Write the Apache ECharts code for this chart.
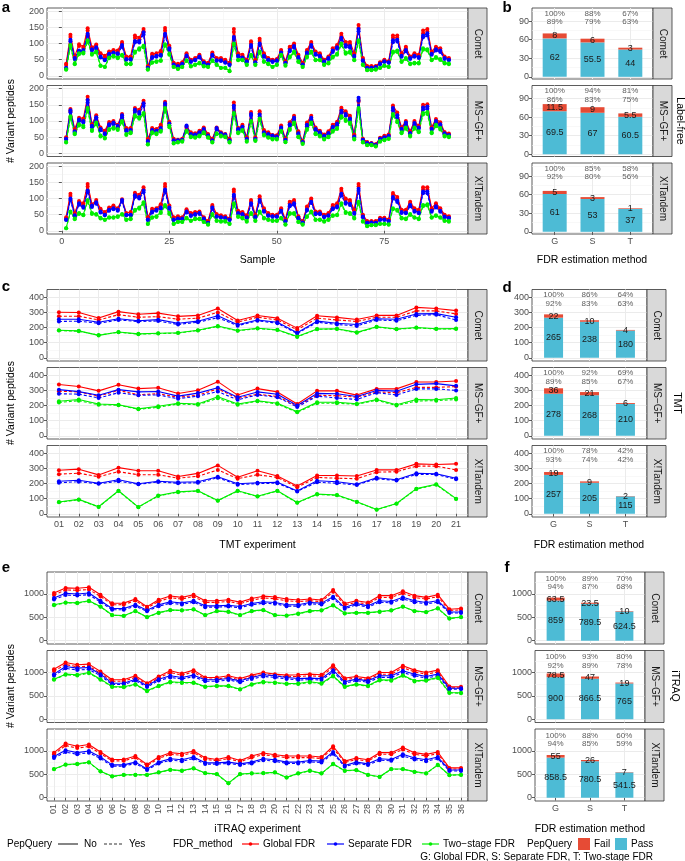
<!DOCTYPE html>
<html><head><meta charset="utf-8">
<script src="https://cdn.jsdelivr.net/npm/echarts@6/dist/echarts.min.js"></script>
<style>html,body{margin:0;padding:0;background:#fff}#c{width:685px;height:861px}</style>
</head><body><div id="c"></div>
<script>
// ===================== DATA =====================
const facetNames = ['Comet', 'MS\u2212GF+', 'X!Tandem'];
const fdrCats = ['G', 'S', 'T'];
const sampleTicks = [0, 25, 50, 75];
const tmtExps = ['01','02','03','04','05','06','07','08','09','10','11','12','13','14','15','16','17','18','19','20','21'];
const itraqExps = ['01','02','03','04','05','06','07','08','09','10','11','12','13','14','15','16','17','18','19','20','21','22','23','24','25','26','27','28','29','30','31','32','33','34','35','36'];

// ---- Panel a: label-free, samples 1..90 ----
const lfComet_G_No = [37,127,60,98,90,147,88,97,70,62,75,80,78,105,60,60,125,118,145,30,68,70,77,148,93,40,37,42,70,50,55,65,45,40,72,55,55,50,40,145,70,65,50,107,50,115,70,55,50,52,80,45,90,100,65,40,80,105,75,70,50,60,85,95,130,105,105,70,157,55,30,30,30,42,50,45,125,125,70,90,60,70,65,140,145,75,90,85,60,55];
const lfComet_G_Yes = [33,120,57,92,86,140,84,92,66,58,72,76,74,100,57,57,118,112,138,28,64,66,73,140,88,38,35,40,66,48,52,62,43,38,68,52,52,47,38,136,66,62,47,101,47,108,66,52,47,50,76,43,85,95,62,38,76,100,71,66,47,57,80,90,123,98,98,66,148,52,28,28,28,40,47,43,118,118,66,85,57,66,62,132,137,71,85,80,57,52];
const lfComet_S_No = [25,112,55,78,80,130,82,88,60,50,68,72,70,95,52,52,108,108,135,25,58,62,65,130,85,35,30,37,63,45,50,60,40,35,65,48,48,42,35,120,62,57,45,95,42,100,62,50,45,48,72,40,80,92,58,35,72,95,68,62,45,55,78,88,118,95,92,62,145,48,25,25,27,38,45,42,110,112,62,80,55,62,58,125,132,68,82,78,55,50];
const lfComet_S_Yes = [23,107,52,75,76,124,78,84,57,48,65,69,67,90,50,50,103,103,128,24,55,59,62,124,81,33,28,35,60,43,48,57,38,33,62,46,46,40,33,114,59,54,43,90,40,95,59,48,43,46,68,38,76,87,55,33,68,90,65,59,43,52,74,84,112,90,87,59,138,46,24,24,26,36,43,40,104,106,59,76,52,59,55,119,125,65,78,74,52,48];
const lfComet_T_No = [20,95,38,70,72,110,68,75,32,28,57,62,57,65,38,38,75,85,93,20,42,45,48,98,68,28,22,28,48,30,35,40,30,28,48,35,25,25,15,100,50,50,35,65,35,75,45,38,28,35,65,33,60,75,45,28,60,75,50,50,35,40,60,68,100,72,75,50,110,35,18,18,20,25,32,28,75,78,45,55,38,40,40,85,82,50,58,52,40,38];
const lfComet_T_Yes = [19,91,36,67,69,105,65,72,30,27,54,59,54,62,36,36,71,81,88,19,40,43,46,93,65,27,21,27,46,29,33,38,29,27,46,33,24,24,14,95,48,48,33,62,33,71,43,36,27,33,62,31,57,71,43,27,57,71,48,48,33,38,57,65,95,68,71,48,105,33,17,17,19,24,30,27,71,74,43,52,36,38,38,81,78,48,55,49,38,36];

const lfMsgf_G_No = [50,137,75,110,108,175,90,118,80,70,97,100,88,122,78,78,140,135,163,45,78,75,88,160,98,45,42,45,82,65,62,70,80,60,45,80,65,60,45,157,78,88,50,128,50,130,72,65,57,56,86,46,96,116,68,38,95,116,80,70,58,68,88,98,141,130,116,58,165,45,35,32,28,48,54,58,148,126,81,100,68,100,85,150,152,81,106,96,66,61];
const lfMsgf_G_Yes = [47,130,71,104,102,166,86,112,76,66,92,95,84,116,74,74,133,128,155,42,74,71,84,152,93,42,40,43,78,62,59,66,76,57,43,76,62,57,43,149,74,84,47,122,47,124,68,62,54,53,82,44,91,110,65,36,90,110,76,66,55,65,84,93,134,124,110,55,160,43,33,30,27,46,51,55,141,120,77,95,65,95,81,143,145,77,101,91,63,58];
const lfMsgf_S_No = [45,133,68,105,100,165,85,112,75,62,90,95,85,118,72,72,135,128,155,38,72,70,78,155,92,40,40,42,86,60,58,65,75,55,40,78,62,58,40,147,75,82,45,122,45,120,65,60,55,52,80,42,90,110,62,35,88,110,75,65,54,63,82,92,132,122,108,52,172,42,32,30,26,45,50,54,140,118,76,95,63,94,80,142,145,76,100,90,62,57];
const lfMsgf_S_Yes = [43,127,65,100,95,157,81,107,71,59,86,90,81,112,68,68,128,122,147,36,68,66,74,147,87,38,38,40,82,57,55,62,71,52,38,74,59,55,38,140,71,78,43,116,43,114,62,57,52,49,76,40,86,105,59,33,84,105,71,62,51,60,78,87,125,116,103,49,163,40,30,28,25,43,47,51,133,112,72,90,60,89,76,135,138,72,95,86,59,54];
const lfMsgf_T_No = [35,115,62,90,85,140,72,95,55,48,75,80,75,100,60,65,118,112,125,28,65,62,70,140,85,32,35,38,70,52,50,55,65,50,35,62,55,52,35,125,65,72,38,100,40,108,58,50,45,45,70,36,75,95,52,30,75,95,62,55,45,52,70,78,115,105,95,45,140,35,26,26,22,38,42,46,122,100,65,80,55,80,68,125,128,65,88,78,55,52];
const lfMsgf_T_Yes = [33,110,59,86,81,134,69,91,52,46,72,76,72,96,57,62,113,107,120,27,62,59,67,134,81,30,33,36,67,50,48,52,62,48,33,59,52,50,33,120,62,69,36,96,38,103,55,48,43,43,67,34,72,91,50,29,72,91,59,52,43,50,67,75,110,100,91,43,134,33,25,25,21,36,40,44,117,96,62,76,52,76,65,120,122,62,84,74,52,50];

const lfXt_G_No = [42,115,55,92,85,145,82,95,68,58,72,78,70,98,55,58,118,112,135,42,68,70,82,145,78,42,45,42,67,55,58,60,42,30,80,52,48,45,38,128,62,58,48,95,50,107,70,55,50,50,70,35,90,95,45,30,75,100,60,60,50,55,80,85,130,100,95,65,145,50,30,30,30,40,40,35,117,105,65,65,90,70,65,135,135,70,85,70,50,45];
const lfXt_G_Yes = [38,108,52,87,80,137,78,90,64,55,68,74,66,93,52,55,112,106,128,40,64,66,78,137,74,40,43,40,63,52,55,57,40,28,76,49,45,43,36,121,59,55,45,90,47,101,66,52,47,47,66,33,85,90,43,28,71,95,57,57,47,52,76,80,123,95,90,62,137,47,28,28,28,38,38,33,111,99,62,62,85,66,62,128,128,66,80,66,47,43];
const lfXt_S_No = [35,100,48,85,75,125,78,88,60,50,65,70,65,95,50,50,110,105,125,35,60,65,72,128,72,35,38,38,60,48,52,55,38,25,72,45,42,40,35,112,55,52,42,85,44,95,62,48,45,45,62,30,80,85,40,26,66,90,54,54,44,48,70,76,115,88,84,56,130,44,25,26,25,35,35,30,105,94,58,57,80,62,57,122,122,62,76,62,44,40];
const lfXt_S_Yes = [33,95,46,81,71,119,74,84,57,48,62,67,62,90,48,48,105,100,119,33,57,62,68,122,68,33,36,36,57,46,49,52,36,24,68,43,40,38,33,106,52,49,40,81,42,90,59,46,43,43,59,29,76,81,38,25,63,86,51,51,42,46,67,72,109,84,80,53,124,42,24,25,24,33,33,29,100,89,55,54,76,59,54,116,116,59,72,59,42,38];
const lfXt_T_No = [8,60,38,55,50,95,55,52,40,35,42,42,45,52,35,38,65,72,88,22,42,45,58,80,55,22,28,28,40,32,38,38,28,20,52,32,30,30,22,85,45,40,30,55,32,60,40,35,32,32,40,20,55,55,28,20,45,60,35,35,30,35,48,50,85,58,55,40,90,30,15,18,18,22,22,20,70,65,40,38,52,42,38,80,82,42,48,42,32,30];
const lfXt_T_Yes = [8,57,36,52,48,90,52,50,38,33,40,40,43,50,33,36,62,68,84,21,40,43,55,76,52,21,27,27,38,30,36,36,27,19,49,30,28,28,21,81,43,38,28,52,30,57,38,33,30,30,38,19,52,52,27,19,43,57,33,33,28,33,46,48,81,55,52,38,86,28,14,17,17,21,21,19,67,62,38,36,49,40,36,76,78,40,46,40,30,28];

// ---- Panel c: TMT experiments 01..21 ----
const tmtComet_G_No = [301,299,263,305,288,295,274,280,326,246,280,262,196,278,267,253,280,280,333,326,312];
const tmtComet_G_Yes = [275,275,250,285,268,272,255,262,300,235,268,250,185,262,250,240,268,268,310,310,290];
const tmtComet_S_No = [255,255,235,258,245,252,228,242,278,218,250,235,165,242,228,220,258,255,290,292,268];
const tmtComet_S_Yes = [240,242,228,250,240,243,220,235,265,212,245,228,160,235,220,210,250,245,280,285,250];
const tmtComet_T_No = [182,178,148,170,158,162,165,182,210,180,195,185,140,190,192,168,205,190,200,192,193];
const tmtComet_T_Yes = [180,175,150,168,156,160,163,180,207,178,193,183,138,188,190,165,203,188,198,190,190];
const tmtMsgf_G_No = [339,326,297,337,312,318,280,301,358,269,312,290,210,297,297,269,310,310,356,356,362];
const tmtMsgf_G_Yes = [295,290,262,300,272,278,255,268,310,248,275,260,198,268,265,255,290,285,320,320,325];
const tmtMsgf_S_No = [305,292,268,305,290,293,262,282,318,255,290,275,200,280,278,260,300,295,340,345,330];
const tmtMsgf_S_Yes = [278,275,250,285,268,270,245,262,292,238,270,255,190,262,250,240,285,270,310,310,300];
const tmtMsgf_T_No = [228,240,210,205,178,195,215,210,258,210,232,215,158,222,222,212,240,205,240,238,250];
const tmtMsgf_T_Yes = [220,232,205,202,175,188,210,205,248,205,228,210,155,215,215,208,235,200,230,232,240];
const tmtXt_G_No = [288,295,257,305,284,284,246,267,320,242,284,250,183,253,253,250,290,290,330,326,330];
const tmtXt_G_Yes = [262,268,245,278,258,258,235,248,290,232,258,240,175,240,235,232,275,278,315,315,290];
const tmtXt_S_No = [215,222,202,225,198,215,208,212,245,198,205,208,150,218,212,195,238,225,268,265,235];
const tmtXt_S_Yes = [205,212,198,215,195,210,202,205,238,192,200,202,148,208,202,190,232,220,260,260,228];
const tmtXt_T_No = [78,95,46,152,44,120,145,152,88,152,116,152,74,130,124,79,28,68,166,195,100];
const tmtXt_T_Yes = [76,93,45,150,43,118,143,150,86,150,114,150,72,128,122,77,27,66,163,192,98];

// ---- Panel e: iTRAQ experiments 01..36 ----
const itComet_G_No = [1022,1130,1123,1145,985,800,804,891,728,875,957,928,985,855,855,875,826,902,953,935,891,870,891,870,1087,797,855,819,964,964,1058,964,928,985,674,688];
const itComet_G_Yes = [980,1085,1080,1095,948,770,772,858,700,840,920,892,945,820,820,840,792,866,915,898,855,835,856,836,1045,765,820,786,925,926,1016,925,890,945,646,660];
const itComet_S_No = [913,1015,1000,1022,855,688,688,768,652,768,833,804,855,746,746,760,732,797,833,819,768,768,819,804,942,710,797,746,855,840,928,855,819,855,616,616];
const itComet_S_Yes = [880,978,965,985,825,662,662,740,628,740,803,775,824,718,718,732,705,768,803,790,740,740,790,775,908,684,768,718,824,810,895,824,790,824,594,594];
const itComet_T_No = [768,819,812,855,732,551,536,638,507,601,659,652,674,551,638,623,551,638,659,551,540,580,638,652,761,587,601,601,623,652,732,638,616,696,478,507];
const itComet_T_Yes = [760,810,804,846,725,545,530,631,502,595,652,645,667,545,631,617,545,631,652,545,535,574,631,645,753,581,595,595,617,645,725,631,610,689,473,502];
const itMsgf_G_No = [1071,1214,1164,1179,1021,843,843,929,771,914,1036,979,1050,893,893,929,871,943,1000,964,943,950,964,950,1157,879,914,879,1000,1000,1143,1050,1000,1050,700,693];
const itMsgf_G_Yes = [1030,1170,1122,1136,984,812,812,895,743,880,998,943,1012,860,860,895,839,908,963,929,908,915,929,915,1115,847,880,847,963,963,1101,1012,963,1012,675,668];
const itMsgf_S_No = [964,1129,1093,1107,964,771,771,857,714,857,929,893,943,843,843,871,821,893,950,929,893,871,879,871,1050,800,857,821,929,929,1036,964,914,964,664,664];
const itMsgf_S_Yes = [930,1088,1053,1067,929,743,743,826,688,826,895,861,909,812,812,839,791,861,915,895,861,839,847,839,1012,771,826,791,895,895,998,929,881,929,640,640];
const itMsgf_T_No = [857,964,950,1000,857,700,693,750,607,714,800,786,786,700,714,714,643,750,800,786,764,764,800,771,929,700,750,714,843,836,943,821,836,893,571,564];
const itMsgf_T_Yes = [845,950,936,985,845,690,683,739,598,704,788,775,775,690,704,704,634,739,788,775,753,753,788,760,915,690,739,704,831,824,929,809,824,880,563,556];
const itXt_G_No = [964,1159,1101,1138,978,819,819,891,710,870,964,942,1000,855,819,870,797,891,957,920,891,891,891,870,1101,783,848,812,964,964,1072,964,928,978,638,638];
const itXt_G_Yes = [928,1117,1061,1097,943,789,789,858,684,838,929,908,964,824,789,838,768,858,922,886,858,858,858,838,1061,754,817,782,929,929,1033,929,894,943,615,615];
const itXt_S_No = [884,1014,964,1000,870,703,703,761,616,761,833,812,870,746,746,761,725,761,833,812,761,761,797,783,978,688,761,725,833,819,928,848,812,870,594,594];
const itXt_S_Yes = [852,977,929,964,838,677,677,733,594,733,803,782,838,719,719,733,699,733,803,782,733,733,768,754,942,663,733,699,803,789,894,817,782,838,572,572];
const itXt_T_No = [616,710,725,761,565,457,493,493,493,543,601,580,630,529,507,312,507,522,529,543,435,522,580,522,725,580,594,493,449,616,616,558,522,703,486,493];
const itXt_T_Yes = [610,703,718,753,560,452,488,488,488,538,595,574,624,524,502,309,502,517,524,538,431,517,574,517,718,574,588,488,445,610,610,552,517,696,481,488];

// ---- Bar panels (G, S, T): Pass / Fail counts and percentage labels ----
const lfPass_Comet = [62, 55.5, 44],   lfFail_Comet = [8, 6, 3];
const lfPass_Msgf = [69.5, 67, 60.5],  lfFail_Msgf = [11.5, 9, 5.5];
const lfPass_Xt = [61, 53, 37],        lfFail_Xt = [5, 3, 1];
const lfPctTop_Comet = ['100%','88%','67%'], lfPctBot_Comet = ['89%','79%','63%'];
const lfPctTop_Msgf = ['100%','94%','81%'],  lfPctBot_Msgf = ['86%','83%','75%'];
const lfPctTop_Xt = ['100%','85%','58%'],    lfPctBot_Xt = ['92%','80%','56%'];

const tmtPass_Comet = [265, 238, 180], tmtFail_Comet = [22, 10, 4];
const tmtPass_Msgf = [278, 268, 210],  tmtFail_Msgf = [36, 21, 6];
const tmtPass_Xt = [257, 205, 115],    tmtFail_Xt = [19, 9, 2];
const tmtPctTop_Comet = ['100%','86%','64%'], tmtPctBot_Comet = ['92%','83%','63%'];
const tmtPctTop_Msgf = ['100%','92%','69%'],  tmtPctBot_Msgf = ['89%','85%','67%'];
const tmtPctTop_Xt = ['100%','78%','42%'],    tmtPctBot_Xt = ['93%','74%','42%'];

const itPass_Comet = [859, 789.5, 624.5], itFail_Comet = [63.5, 23.5, 10];
const itPass_Msgf = [900, 866.5, 765],    itFail_Msgf = [78.5, 47, 19];
const itPass_Xt = [858.5, 780.5, 541.5],  itFail_Xt = [55, 26, 7];
const itPctTop_Comet = ['100%','89%','70%'], itPctBot_Comet = ['94%','87%','68%'];
const itPctTop_Msgf = ['100%','93%','80%'],  itPctBot_Msgf = ['92%','89%','78%'];
const itPctTop_Xt = ['100%','88%','60%'],    itPctBot_Xt = ['94%','85%','59%'];

// ===================== BUILD =====================
const FONT = '"Liberation Sans", Arial, Helvetica, sans-serif';
const COL = { G: '#FF0000', S: '#0000FF', T: '#00EE00', Pass: '#4DBBD5', Fail: '#E64B35' };
const grids = [], xAxes = [], yAxes = [], series = [], graphic = [];

function addGrid(l, t, w, h, show) {
  grids.push({ left: l, top: t, width: w, height: h, show: show !== false, borderColor: '#333333', borderWidth: 0.8, backgroundColor: show !== false ? '#FFFFFF' : 'transparent' });
  return grids.length - 1;
}
function addAxis(list, gi, dim, min, max, major, minor, showTicks, showLabels, fmt, rotate) {
  const pos = dim === 'x' ? 'bottom' : 'left';
  list.push({
    type: 'value', gridIndex: gi, min: min, max: max, position: pos,
    axisLine: { show: false },
    axisTick: { show: showTicks, length: 3, lineStyle: { color: '#333333', width: 0.8 }, customValues: major },
    axisLabel: { show: showLabels, customValues: major, formatter: fmt, color: '#4D4D4D', fontSize: 9, fontFamily: FONT, margin: 3, rotate: rotate || 0 },
    splitLine: { show: true, lineStyle: { color: '#EBEBEB', width: 1 } }
  });
  const idx = list.length - 1;
  if (minor && minor.length) {
    list.push({
      type: 'value', gridIndex: gi, min: min, max: max, position: pos,
      axisLine: { show: false },
      axisTick: { show: false, customValues: minor },
      axisLabel: { show: false, customValues: minor },
      splitLine: { show: true, lineStyle: { color: '#F3F3F3', width: 0.6 } }
    });
  }
  return idx;
}
function txt(x, y, text, o) {
  o = o || {};
  graphic.push({
    type: 'text', x: x, y: y, rotation: o.rot || 0, z: 100,
    style: { text: text, fill: o.color || '#000', fontSize: o.size || 10, fontFamily: FONT, fontWeight: o.weight || 'normal',
      align: o.align || 'center', verticalAlign: o.valign || 'middle', textAlign: o.align || 'center', textVerticalAlign: o.valign || 'middle' }
  });
}
function strip(x, y, w, h, text) {
  graphic.push({ type: 'rect', z: 90, shape: { x: x, y: y, width: w, height: h }, style: { fill: '#D9D9D9', stroke: '#333333', lineWidth: 0.8 } });
  txt(x + w / 2 + 0.5, y + h / 2, text, { rot: -Math.PI / 2, size: 10, color: '#1A1A1A' });
}

const LINE_LEFT = 47, LINE_W = 421, SW = 19;
const ROWS = {
  ab: { tops: [8, 85.5, 163], h: 71 },
  cd: { tops: [289.5, 367.5, 445.5], h: 71.5 },
  ef: { tops: [572, 650.5, 729], h: 72 }
};

function linePanel(row, xSpec, ySpec, facetSeries) {
  const R = ROWS[row];
  for (let f = 0; f < 3; f++) {
    const top = R.tops[f], h = R.h;
    const gi = addGrid(LINE_LEFT, top, LINE_W, h);
    const bottom = f === 2;
    const xi = addAxis(xAxes, gi, 'x', xSpec.min, xSpec.max, xSpec.major, xSpec.minor, bottom, bottom, xSpec.fmt, xSpec.rotate);
    const yi = addAxis(yAxes, gi, 'y', ySpec.min, ySpec.max, ySpec.major, ySpec.minor, true, true, v => String(v));
    const sets = facetSeries[f];
    const defs = [['Global FDR', 'G', false], ['Global FDR', 'G', true], ['Separate FDR', 'S', false], ['Separate FDR', 'S', true], ['Two-stage FDR', 'T', false], ['Two-stage FDR', 'T', true]];
    defs.forEach((d, k) => {
      const vals = sets[k];
      series.push({
        type: 'line', name: d[0], xAxisIndex: xi, yAxisIndex: yi,
        data: vals.map((v, i) => [xSpec.xs[i], v]),
        symbol: 'circle', symbolSize: 4, showSymbol: true, showAllSymbol: true,
        lineStyle: { color: COL[d[1]], width: 1.1, type: d[2] ? [3, 2] : 'solid' },
        itemStyle: { color: COL[d[1]] }, emphasis: { disabled: true }, silent: true, z: 3
      });
    });
    strip(LINE_LEFT + LINE_W, top, SW, h, facetNames[f]);
  }
}

function barPanel(row, box, ySpec, facetBars, pctY, barPx) {
  const R = ROWS[row];
  const unit = box.w / 3.2;  // one category step (discrete scale, 0.6 expansion each side)
  for (let f = 0; f < 3; f++) {
    const top = R.tops[f], h = R.h;
    const bottom = f === 2;
    // frame grid: border, gridlines, ticks, labels
    const gi = addGrid(box.left, top, box.w, h);
    const xi = addAxis(xAxes, gi, 'x', 0.4, 3.6, [1, 2, 3], null, bottom, bottom, v => fdrCats[v - 1]);
    const yi = addAxis(yAxes, gi, 'y', ySpec.min, ySpec.max, ySpec.major, ySpec.minor, true, true, v => String(v));
    // bar grid: categorical, inner area between first and last band edges
    const gb = addGrid(box.left + 0.1 * unit, top, box.w - 0.2 * unit, h, false);
    xAxes.push({ type: 'category', gridIndex: gb, data: fdrCats, show: false });
    const xb = xAxes.length - 1;
    yAxes.push({ type: 'value', gridIndex: gb, min: ySpec.min, max: ySpec.max, show: false, splitLine: { show: false } });
    const yb = yAxes.length - 1;
    const fb = facetBars[f];
    const lbl = { show: true, position: 'inside', color: '#1A1A1A', fontSize: 9, fontFamily: FONT, formatter: p => String(p.value) };
    series.push({ type: 'bar', name: 'Pass', stack: 'st' + gb, xAxisIndex: xb, yAxisIndex: yb, barWidth: barPx,
      data: fb.pass.slice(), itemStyle: { color: COL.Pass }, label: lbl, silent: true, z: 3 });
    series.push({ type: 'bar', name: 'Fail', stack: 'st' + gb, xAxisIndex: xb, yAxisIndex: yb, barWidth: barPx,
      data: fb.fail.slice(), itemStyle: { color: COL.Fail }, label: lbl, silent: true, z: 3 });
    series.push({ type: 'scatter', xAxisIndex: xi, yAxisIndex: yi, symbolSize: 0, silent: true, z: 4,
      data: fdrCats.map((c, i) => [i + 1, pctY]),
      label: { show: true, position: 'inside', color: '#333333', fontSize: 8, lineHeight: 8.6, fontFamily: FONT,
        formatter: p => fb.top[p.dataIndex] + '\n' + fb.bot[p.dataIndex] } });
    strip(box.left + box.w, top, SW, h, facetNames[f]);
  }
}

const samplesX = lfComet_G_No.map((v, i) => i + 1);
const tmtX = tmtExps.map((s, i) => i + 1);
const itX = itraqExps.map((s, i) => i + 1);

// Panel a
linePanel('ab',
  { min: -3.45, max: 94.45, major: sampleTicks, minor: [12.5, 37.5, 62.5, 87.5], fmt: v => String(v), xs: samplesX },
  { min: -10, max: 210, major: [0, 50, 100, 150, 200], minor: [25, 75, 125, 175] },
  [[lfComet_G_No, lfComet_G_Yes, lfComet_S_No, lfComet_S_Yes, lfComet_T_No, lfComet_T_Yes],
   [lfMsgf_G_No, lfMsgf_G_Yes, lfMsgf_S_No, lfMsgf_S_Yes, lfMsgf_T_No, lfMsgf_T_Yes],
   [lfXt_G_No, lfXt_G_Yes, lfXt_S_No, lfXt_S_Yes, lfXt_T_No, lfXt_T_Yes]]);
// Panel c
linePanel('cd',
  { min: 0.4, max: tmtExps.length + 0.6, major: tmtX, minor: null, fmt: v => tmtExps[v - 1], xs: tmtX },
  { min: -21.5, max: 451.5, major: [0, 100, 200, 300, 400], minor: [50, 150, 250, 350] },
  [[tmtComet_G_No, tmtComet_G_Yes, tmtComet_S_No, tmtComet_S_Yes, tmtComet_T_No, tmtComet_T_Yes],
   [tmtMsgf_G_No, tmtMsgf_G_Yes, tmtMsgf_S_No, tmtMsgf_S_Yes, tmtMsgf_T_No, tmtMsgf_T_Yes],
   [tmtXt_G_No, tmtXt_G_Yes, tmtXt_S_No, tmtXt_S_Yes, tmtXt_T_No, tmtXt_T_Yes]]);
// Panel e
linePanel('ef',
  { min: 0.4, max: itraqExps.length + 0.6, major: itX, minor: null, fmt: v => itraqExps[v - 1], xs: itX, rotate: 90 },
  { min: -70, max: 1470, major: [0, 500, 1000], minor: [250, 750, 1250] },
  [[itComet_G_No, itComet_G_Yes, itComet_S_No, itComet_S_Yes, itComet_T_No, itComet_T_Yes],
   [itMsgf_G_No, itMsgf_G_Yes, itMsgf_S_No, itMsgf_S_Yes, itMsgf_T_No, itMsgf_T_Yes],
   [itXt_G_No, itXt_G_Yes, itXt_S_No, itXt_S_Yes, itXt_T_No, itXt_T_Yes]]);
// Panel b
barPanel('ab', { left: 532, w: 121 }, { min: -3.5, max: 111, major: [0, 30, 60, 90], minor: [15, 45, 75, 105] },
  [{ pass: lfPass_Comet, fail: lfFail_Comet, top: lfPctTop_Comet, bot: lfPctBot_Comet },
   { pass: lfPass_Msgf, fail: lfFail_Msgf, top: lfPctTop_Msgf, bot: lfPctBot_Msgf },
   { pass: lfPass_Xt, fail: lfFail_Xt, top: lfPctTop_Xt, bot: lfPctBot_Xt }], 95, 24);
// Panel d
barPanel('cd', { left: 532, w: 115 }, { min: -21.5, max: 451.5, major: [0, 100, 200, 300, 400], minor: [50, 150, 250, 350] },
  [{ pass: tmtPass_Comet, fail: tmtFail_Comet, top: tmtPctTop_Comet, bot: tmtPctBot_Comet },
   { pass: tmtPass_Msgf, fail: tmtFail_Msgf, top: tmtPctTop_Msgf, bot: tmtPctBot_Msgf },
   { pass: tmtPass_Xt, fail: tmtFail_Xt, top: tmtPctTop_Xt, bot: tmtPctBot_Xt }], 387, 19);
// Panel f
barPanel('ef', { left: 535, w: 110 }, { min: -70, max: 1470, major: [0, 500, 1000], minor: [250, 750, 1250] },
  [{ pass: itPass_Comet, fail: itFail_Comet, top: itPctTop_Comet, bot: itPctBot_Comet },
   { pass: itPass_Msgf, fail: itFail_Msgf, top: itPctTop_Msgf, bot: itPctBot_Msgf },
   { pass: itPass_Xt, fail: itFail_Xt, top: itPctTop_Xt, bot: itPctBot_Xt }], 1241, 18);

// Panel letters
[['a', 6, 8], ['b', 507, 8], ['c', 6, 287], ['d', 507, 288], ['e', 6, 568], ['f', 507, 568]].forEach(p =>
  txt(p[1], p[2], p[0], { size: 15, weight: 'bold' }));
// Axis titles
txt(257.5, 260, 'Sample', { size: 10.5 });
txt(592, 260, 'FDR estimation method', { size: 10.5 });
txt(257.5, 545, 'TMT experiment', { size: 10.5 });
txt(589, 545, 'FDR estimation method', { size: 10.5 });
txt(257.5, 829, 'iTRAQ experiment', { size: 10.5 });
txt(590, 829, 'FDR estimation method', { size: 10.5 });
txt(11, 121, '# Variant peptides', { size: 10.5, rot: Math.PI / 2 });
txt(11, 403, '# Variant peptides', { size: 10.5, rot: Math.PI / 2 });
txt(11, 686, '# Variant peptides', { size: 10.5, rot: Math.PI / 2 });
txt(680, 121, 'Label-free', { size: 10.5, rot: -Math.PI / 2 });
txt(677, 403, 'TMT', { size: 10.5, rot: -Math.PI / 2 });
txt(675, 686, 'iTRAQ', { size: 10.5, rot: -Math.PI / 2 });

// Legend
const LY = 844;
txt(7, LY, 'PepQuery', { size: 10, align: 'left' });
graphic.push({ type: 'line', shape: { x1: 58, y1: LY, x2: 78, y2: LY }, style: { stroke: '#333', lineWidth: 1.2 } });
txt(84, LY, 'No', { size: 10, align: 'left' });
graphic.push({ type: 'line', shape: { x1: 104, y1: LY, x2: 124, y2: LY }, style: { stroke: '#333', lineWidth: 1.2, lineDash: [3, 2] } });
txt(129, LY, 'Yes', { size: 10, align: 'left' });
txt(173, LY, 'FDR_method', { size: 10, align: 'left' });
[[242, 'Global FDR', COL.G], [327, 'Separate FDR', COL.S], [422, 'Two\u2212stage FDR', COL.T]].forEach(l => {
  graphic.push({ type: 'line', shape: { x1: l[0], y1: LY, x2: l[0] + 17, y2: LY }, style: { stroke: l[2], lineWidth: 1.2 } });
  graphic.push({ type: 'circle', shape: { cx: l[0] + 8.5, cy: LY, r: 1.8 }, style: { fill: l[2] } });
  txt(l[0] + 21, LY, l[1], { size: 10, align: 'left' });
});
txt(527, LY, 'PepQuery', { size: 10, align: 'left' });
graphic.push({ type: 'rect', shape: { x: 578, y: LY - 6, width: 12, height: 12 }, style: { fill: COL.Fail } });
txt(594, LY, 'Fail', { size: 10, align: 'left' });
graphic.push({ type: 'rect', shape: { x: 615, y: LY - 6, width: 12, height: 12 }, style: { fill: COL.Pass } });
txt(631, LY, 'Pass', { size: 10, align: 'left' });
txt(653, 857, 'G: Global FDR, S: Separate FDR, T: Two-stage FDR', { size: 10, align: 'right' });

const chart = echarts.init(document.getElementById('c'), null, { renderer: 'canvas' });
chart.setOption({
  animation: false,
  backgroundColor: '#FFFFFF',
  textStyle: { fontFamily: FONT },
  grid: grids, xAxis: xAxes, yAxis: yAxes, series: series, graphic: graphic
});
</script></body></html>
